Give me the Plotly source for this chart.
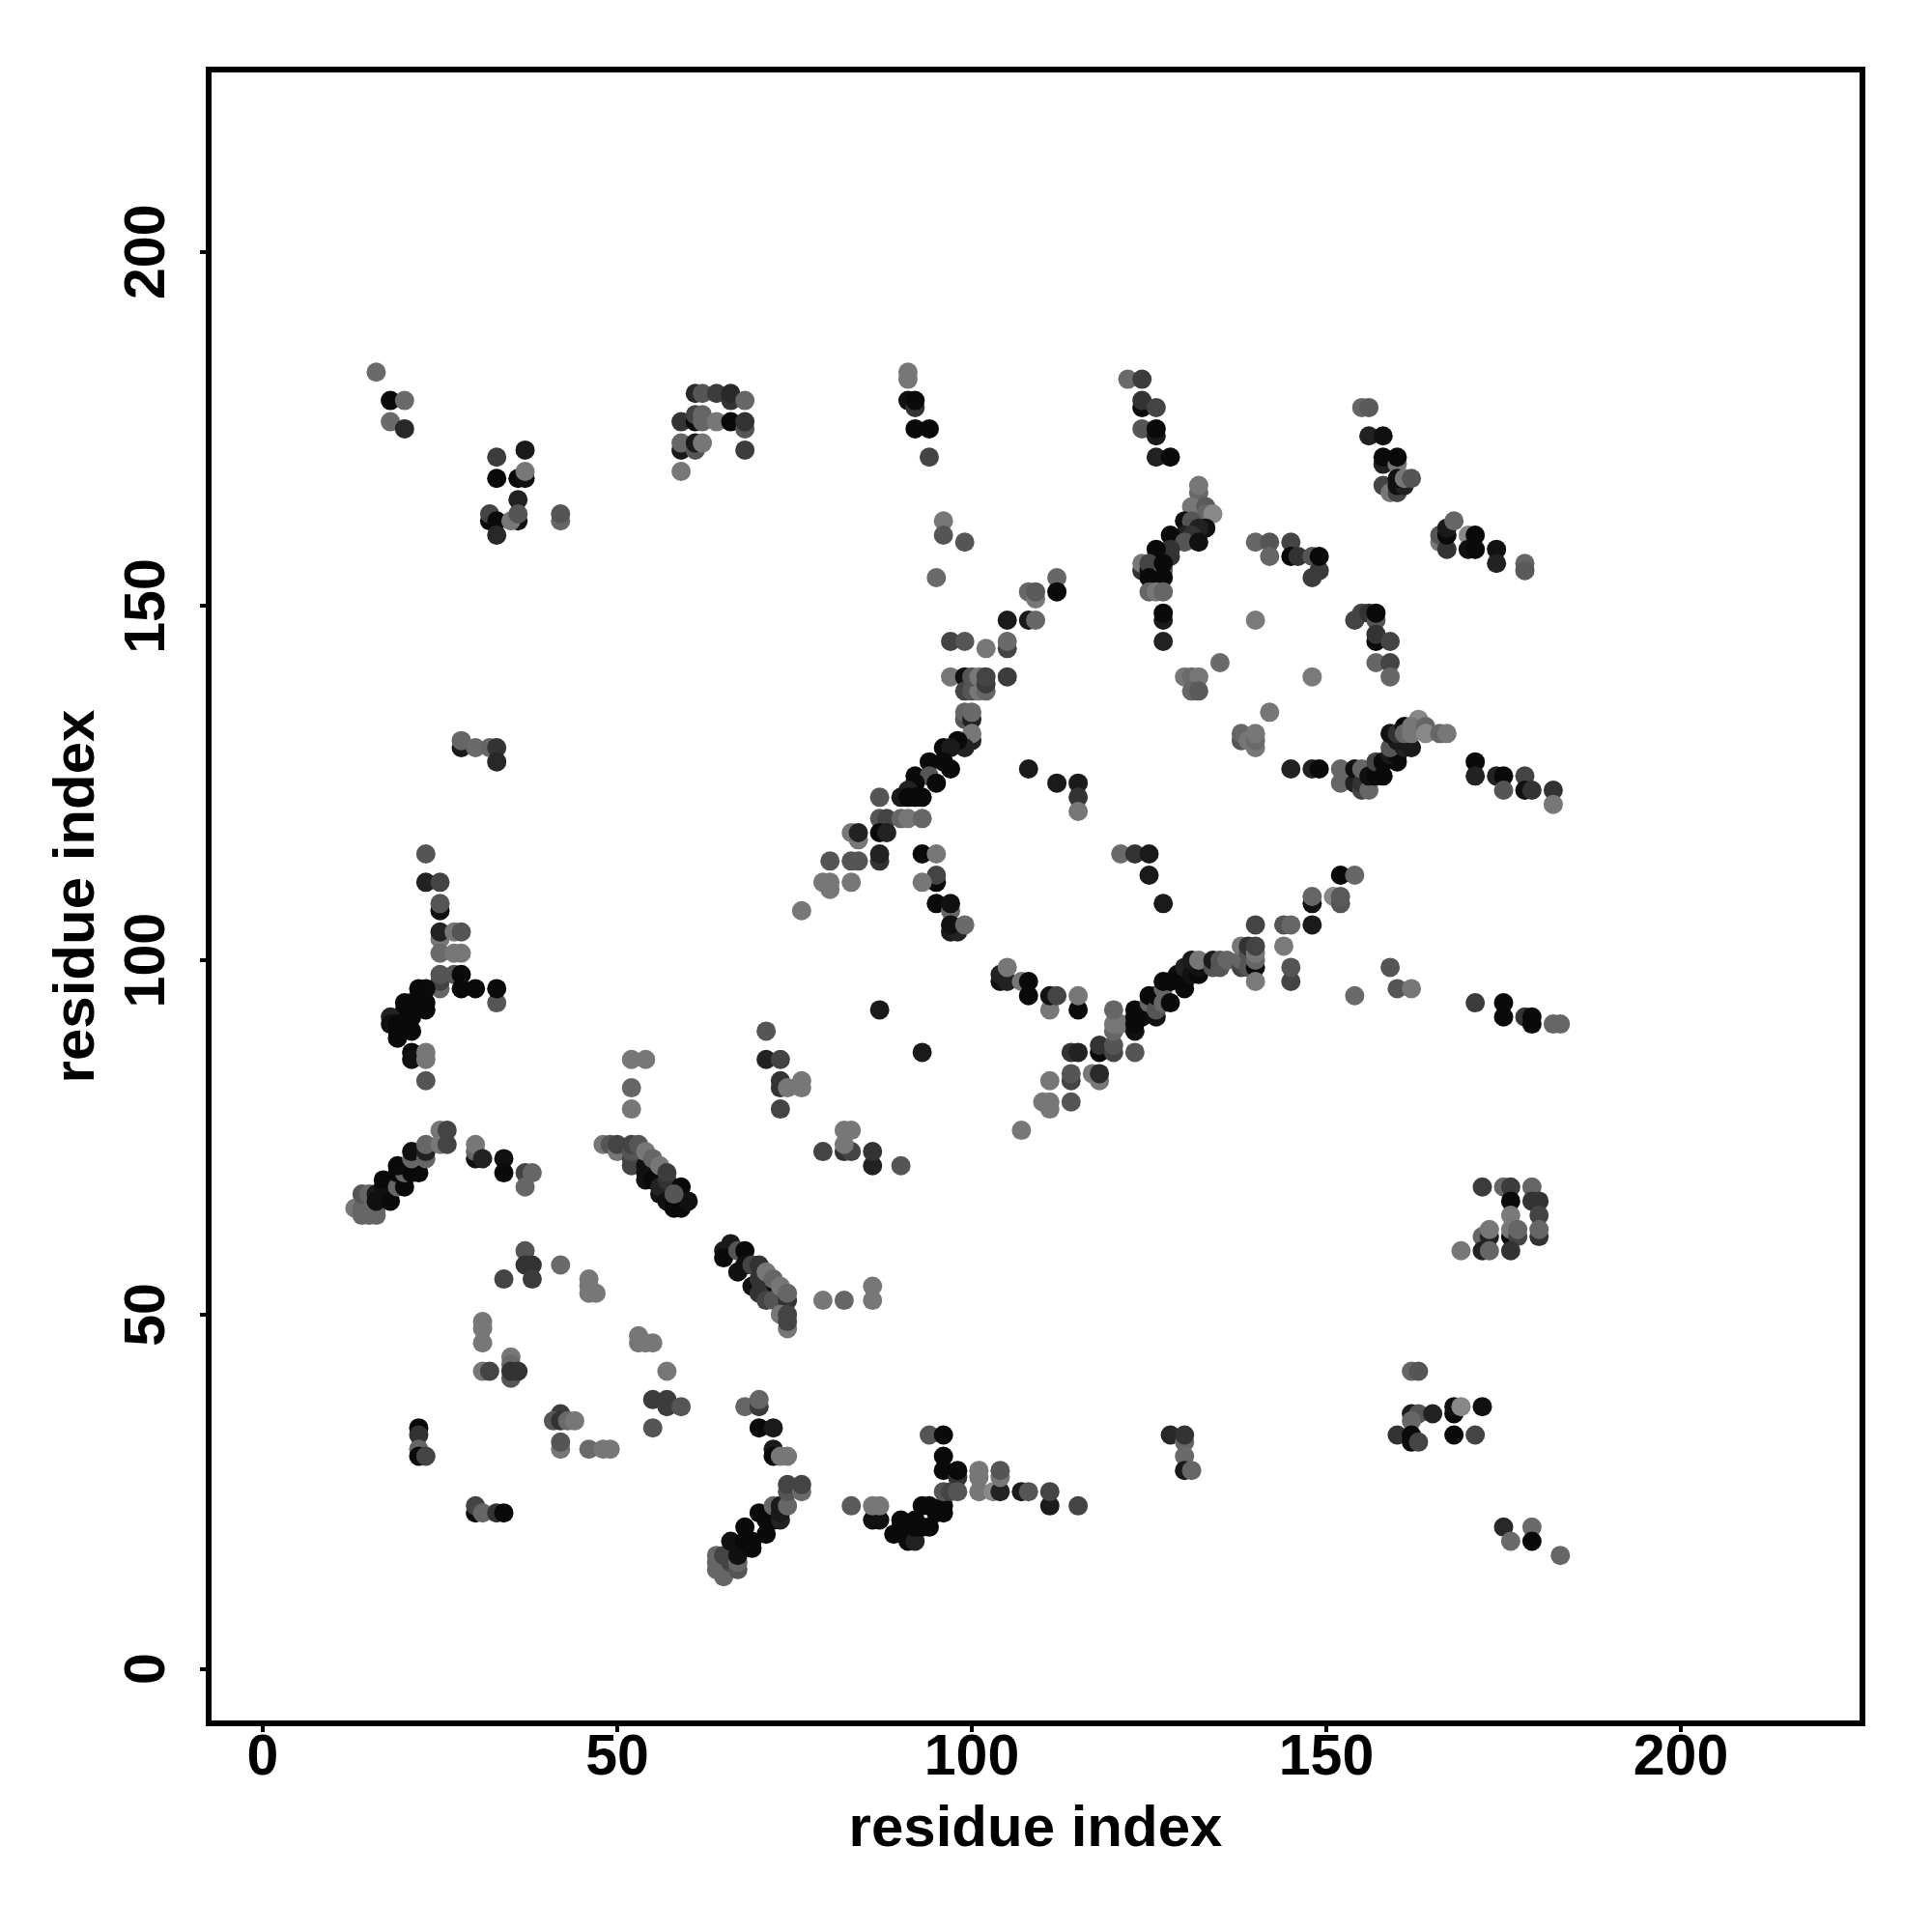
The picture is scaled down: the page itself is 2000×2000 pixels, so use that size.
import plotly.graph_objects as go

# Each entry: (residue i, residue j, grey level)
top_left = [(16,183,106),(18,179,10),(20,179,106),(18,176,106),(20,175,40),
 (33,171,60),(37,172,26),(33,168,10),(36,168,10),(37,168,17),(37,169,119),(36,165,34),
 (32,162,10),(32,163,68),(33,162,10),(33,160,40),(36,162,17),(35,162,119),(36,163,85),(42,162,102),(42,163,85),
 (28,130,26),(28,131,102),(30,130,106),(32,130,102),(33,130,51),(33,128,40)]
top_cluster = [(61,180,40),(62,180,85),(64,180,60),(66,179,51),(66,180,40),(68,179,102),
 (59,176,51),(61,176,10),(61,177,68),(62,176,102),(62,177,102),(64,176,119),(66,176,10),(68,175,85),(68,176,51),
 (59,172,26),(59,173,102),(61,172,85),(61,173,26),(62,173,119),(68,172,60),(59,169,119)]
top_mid = [(91,183,119),(91,182,119),(91,179,17),(92,178,51),(92,179,10),(92,175,10),(94,175,10),(94,171,68),
 (122,182,106),(124,182,60),(124,178,10),(124,179,51),(126,178,68),(124,175,85),(126,174,26),(126,175,10),(126,171,34),(128,171,10),
 (96,162,119),(96,160,85),(99,159,85),(95,154,106),
 (112,154,102),(112,152,10),(108,152,102),(109,151,119),(109,152,90),(105,148,26),(108,148,26),(109,148,102),
 (97,145,68),(99,145,85),(102,144,119),(105,144,68),(105,145,106)]
rise_upper = [(97,140,119),(99,140,17),(99,138,68),(100,138,85),(101,138,119),(100,140,85),(101,140,119),(102,138,102),(102,139,60),(102,140,68),(105,140,60),
 (99,134,85),(99,135,102),(100,134,34),(100,135,106),(100,131,34),(100,132,119),(99,130,34),(98,131,10),(96,130,10),(97,130,26),
 (94,128,10),(96,128,10),(97,127,10),(92,126,10),(94,126,85),(95,125,10),(92,125,10),(91,124,34),
 (90,123,26),(91,123,10),(92,123,10),(93,123,10),(87,123,85),
 (87,120,85),(88,120,68),(90,120,102),(91,120,119),(93,120,102),(87,118,10),(88,118,34),(83,118,119),(84,117,119),(84,118,34),
 (87,114,51),(87,115,34),(80,114,85),(83,114,85),(84,114,85),(79,111,119),(80,110,119),(80,111,119),(83,111,119),(76,107,119)]
inner_arc = [(93,115,10),(95,115,119),(95,111,10),(95,112,68),(93,111,119),(95,108,10),(97,107,102),(97,108,17),(97,104,26),(98,104,34),(97,105,17),(99,105,106),
 (108,127,26),(112,125,26),(115,125,26),(115,123,51),(115,121,119),
 (121,115,106),(123,115,51),(125,115,26),(125,112,26),(127,108,26)]
star = [(132,166,102),(132,167,119),(131,164,119),(133,164,90),(132,162,119),(133,163,102),(134,163,136),
 (130,162,17),(131,162,85),(133,161,17),(132,161,34),(130,160,34),(128,160,10),(131,160,51),(130,159,85),(132,159,17),
 (128,158,51),(128,157,51),(126,158,10),(124,155,51),(124,156,119),(125,155,17),(125,156,68),(127,155,102),(127,156,10),(125,154,10),(127,154,10),
 (125,152,102),(126,152,119),(127,152,102),(127,148,26),(127,149,10),(127,145,34)]
upper_right = [(140,159,102),(142,159,85),(142,157,102),(145,159,68),(145,157,10),(146,157,51),(148,157,85),(149,155,58),(148,154,60),(149,157,10),
 (155,178,102),(156,178,90),(156,174,34),(158,174,17),(158,170,34),(158,171,10),(160,170,119),(160,171,10),
 (158,167,68),(159,166,119),(160,166,68),(160,167,17),(161,167,34),(160,168,17),(161,168,119),(162,168,85),
 (166,159,119),(166,160,85),(167,158,51),(167,160,10),(167,161,26),(168,162,102),(170,160,136),(170,158,17),(171,158,10),(171,160,10),
 (174,158,17),(174,156,34),(178,156,102),(178,155,90)]
ring_right = [(154,148,68),(155,149,68),(156,149,51),(157,148,85),(157,149,10),(157,145,10),(157,146,51),(159,145,68),(157,142,102),(159,142,68),(159,140,102),
 (140,148,122),(135,142,106),(148,140,122),(130,140,119),(131,140,106),(132,140,119),(131,138,102),(132,138,90),
 (142,135,119),(138,131,85),(138,132,102),(139,131,119),(140,130,119),(140,131,106),(140,132,119)]
swirl = [(145,127,34),(148,127,34),(149,127,10),(152,125,102),(152,127,102),(154,125,34),(154,127,17),(155,124,68),(155,125,51),(155,127,102),
 (156,124,102),(156,126,17),(157,126,10),(157,128,68),(158,126,10),(158,128,10),(160,128,10),
 (159,129,26),(160,129,10),(159,130,85),(161,130,34),(162,130,26),(160,131,26),(159,132,17),(160,132,51),(161,133,10),(161,132,102),
 (163,134,136),(162,133,119),(162,132,119),(164,133,102),(164,132,136),(166,132,102),(167,132,119),
 (171,128,10),(171,126,34),(174,126,34),(175,126,10),(178,126,68),(175,124,85),(178,124,17),(179,124,51),(182,124,51),(182,122,119)]
left_branch = [(23,115,85),(23,111,34),(25,111,68),(25,107,17),(25,108,85),(25,103,119),(25,104,34),(27,104,119),(28,104,85),
 (25,101,106),(27,101,119),(28,101,119),(25,96,102),(25,97,68),(25,98,85),(27,98,85),(28,98,10),(28,96,10),(30,96,10),(33,94,85),(33,96,10),
 (22,95,119),(22,96,10),(23,96,10),(21,93,102),(23,94,10),(23,93,10),(20,94,10),(21,94,10),(20,93,10),(21,92,10),(18,92,34),(18,91,17),(19,91,10),(20,91,10),(21,90,10),(19,90,10),(19,89,10),
 (21,87,10),(21,86,17),(23,87,119),(23,86,119),(23,83,85)]
left_arm = [(13,65,119),(14,65,102),(15,65,102),(16,65,102),(14,64,102),(15,64,102),(16,64,102),(14,67,85),(15,67,102),
 (16,67,26),(16,66,17),(17,68,17),(17,69,10),(18,66,10),(19,68,102),(20,68,10),(19,70,10),(20,70,102),(21,70,10),(22,70,10),(19,71,10),
 (21,72,102),(21,73,17),(23,72,102),(23,73,34),(23,74,102),(25,74,119),(25,76,119),(26,74,68),(26,76,68),
 (30,72,17),(30,73,102),(30,74,119),(31,72,34),(34,72,17),(34,70,10),(37,70,68),(38,70,102),(37,68,102)]
center_left = [(52,86,119),(54,86,119),(52,82,102),(52,79,119),
 (48,74,119),(49,74,85),(50,73,119),(50,74,68),(52,71,68),(52,72,68),(52,73,85),(52,74,68),(53,74,85),
 (54,69,17),(54,70,17),(54,71,17),(55,69,10),(56,67,17),(56,68,34),(57,66,17),(57,69,51),(58,65,10),(58,66,10),(59,65,10),(59,68,10),(60,66,17),
 (54,73,119),(55,72,102),(56,71,119),(57,70,60),(58,67,85)]
mid_small = [(71,90,85),(71,86,34),(73,86,68),(73,79,68),(73,82,51),(73,83,51),(74,82,119),(76,82,119),(76,83,119),
 (82,76,119),(83,76,119),(79,73,68),(82,73,51),(83,73,68),(82,74,119),(86,71,34),(86,73,51),(90,71,85),(87,93,26),(93,87,26)]
lower_arc = [(104,97,17),(104,98,34),(105,97,34),(105,99,119),(107,97,119),(108,95,10),(108,97,10),(111,93,119),(111,95,17),(112,95,68),(115,93,10),(115,95,119)]
main_rise = [(107,76,119),(110,80,119),(111,80,119),(111,79,119),(114,80,85),(111,83,119),(114,83,68),(114,84,85),(117,84,119),(118,83,119),(118,84,42),
 (114,87,51),(115,87,34),(118,87,10),(118,88,51),(120,87,68),(120,88,85),(123,87,85),(120,90,102),(120,91,119),(121,91,119),(120,93,102),
 (123,90,17),(123,91,10),(123,92,10),(123,93,10),(124,92,10),(125,94,102),(125,95,10),(126,92,17),(126,93,85),(126,95,10),
 (127,96,102),(127,97,10),(128,97,10),(127,94,102),(128,94,10),(129,98,10),(130,96,10),(130,97,10),(130,99,34),(131,98,17),(132,98,10),(132,99,17),(131,100,26),(132,100,119),
 (134,99,85),(134,100,26),(135,99,85),(135,100,85),(136,100,102),(138,99,68),(138,100,102),(138,102,119),(139,99,85),(139,101,85),(139,102,51),
 (140,99,10),(140,100,102),(140,101,119),(140,102,68),(140,105,68),(140,97,122),(144,102,122),(144,105,85),(145,105,102),(145,97,68),(145,99,85),
 (148,105,26),(148,108,17),(148,109,102),(151,109,136),(152,108,85),(152,109,90),(152,112,10),(154,112,102)]
right_mid = [(159,99,85),(160,96,85),(162,96,119),(154,95,106),(171,94,60),(175,92,10),(175,94,10),(178,92,51),(179,91,10),(179,92,10),(182,91,102),(183,91,102)]
right_low = [(172,68,60),(175,68,102),(176,68,60),(179,68,102),(176,66,10),(179,66,51),(180,66,51),(176,64,122),(180,64,68),
 (172,61,102),(173,61,34),(173,62,119),(176,61,10),(176,62,119),(177,61,68),(177,62,102),(180,61,51),(180,62,102),(169,59,119),(172,59,34),(173,59,102),(176,59,51),
 (162,42,102),(163,42,85),(162,36,26),(163,36,85),(165,36,34),(168,36,10),(168,37,17),(169,37,136),(172,37,17),(162,35,102),(160,33,51),(162,33,10),(162,32,10),(163,32,68),(168,33,10),(171,33,68),
 (175,20,40),(179,20,106),(176,18,106),(179,18,10),(183,16,102),
 (128,33,40),(130,32,102),(130,33,51),(130,30,106),(130,28,26),(131,28,102)]
lower_ring = [(37,59,85),(37,57,51),(38,57,51),(38,55,60),(34,55,68),(42,57,106),(46,55,119),(46,54,119),(46,53,119),(47,53,119),
 (31,49,119),(31,48,119),(31,46,119),(31,42,119),(32,42,68),(35,44,119),(35,43,106),(35,41,85),(35,42,51),(36,42,51),
 (53,47,119),(53,46,119),(54,46,119),(55,46,119),(57,42,119),(55,38,60),(57,37,60),(57,38,60),(59,37,85),(55,34,85),
 (42,36,60),(41,35,85),(42,35,51),(43,35,106),(44,35,119),(42,31,119),(42,32,85),(46,31,106),(48,31,119),(49,31,119),
 (22,34,10),(22,33,51),(22,31,102),(22,30,10),(23,30,68),(30,22,10),(30,23,68),(31,22,102),(33,22,51),(34,22,10)]
band_mid = [(66,60,26),(65,59,26),(65,58,10),(67,59,85),(68,59,10),(67,56,17),(68,57,17),(69,54,17),(70,54,10),(72,53,10),(69,57,68),(70,57,51),(70,55,51),(70,53,51),
 (71,56,119),(72,55,102),(71,52,68),(72,52,85),(73,54,119),(74,52,51),(74,53,102),(73,50,119),(74,48,119),(74,49,68),(74,50,68),
 (79,52,119),(82,52,102),(86,54,119),(86,52,119)]
bottom_left_band = [(64,14,102),(64,15,102),(64,16,102),(65,13,102),(65,16,68),(66,15,68),(67,14,85),(67,15,102),(67,16,17),(66,18,17),
 (68,18,10),(68,20,10),(69,17,10),(69,18,10),(70,22,10),(71,19,10),(71,21,10),(72,21,10),(72,23,102),(73,21,34),(73,22,26),(73,23,26),(74,23,102),
 (74,25,85),(74,26,68),(76,25,106),(76,26,68),
 (68,37,102),(70,37,60),(70,38,102),(70,34,10),(72,34,26),(72,31,26),(72,30,10),(73,30,119),(74,30,119)]
bottom_center = [(83,23,90),(86,21,17),(87,21,17),(86,23,119),(87,23,119),
 (89,19,10),(90,20,10),(90,21,10),(91,18,10),(91,19,10),(92,18,34),(92,20,10),(92,21,10),(93,20,10),(93,23,10),(94,20,10),(94,23,10),(95,22,10),(96,22,10),(96,23,10),
 (94,33,85),(96,33,10),(96,30,10),(96,28,10),(98,27,51),(98,28,10),(96,25,85),(97,25,68),(98,25,85),
 (101,25,119),(101,27,119),(101,28,119),(103,25,136),(104,25,34),(104,27,119),(104,28,85),(107,25,26),(108,25,85),(111,23,26),(111,25,68),(115,23,68)]

clusters = [top_left, top_cluster, top_mid, rise_upper, inner_arc, star, upper_right, ring_right, swirl,
            left_branch, left_arm, center_left, mid_small, lower_arc, main_rise, right_mid, right_low,
            lower_ring, band_mid, bottom_left_band, bottom_center]
points = [p for c in clusters for p in c]
xs = [p[0] for p in points]
ys = [p[1] for p in points]
greys = [p[2] for p in points]

tick_vals = [0, 50, 100, 150, 200]
axis_title = "residue index"
font = "Liberation Sans"

fig = go.Figure(go.Scatter(
    x=xs, y=ys, mode="markers",
    marker=dict(size=20, color=greys, cmin=0, cmax=255, line=dict(width=0),
                colorscale=[[0, "#000000"], [1, "#ffffff"]], showscale=False),
))

def axis(standoff, **kw):
    return dict(
        tickmode="array", tickvals=tick_vals, ticks="outside", ticklen=6, tickwidth=4, tickcolor="black",
        showline=True, mirror=True, linewidth=6, linecolor="black", showgrid=False, zeroline=False,
        tickfont=dict(family=font, size=59, color="black", weight="bold"),
        title=dict(text=axis_title, standoff=standoff,
                   font=dict(family=font, size=60, color="black", weight="bold")),
        **kw)

fig.update_layout(
    width=1984, height=1984, paper_bgcolor="white", plot_bgcolor="white", showlegend=False,
    margin=dict(l=211, r=67, t=67, b=211, autoexpand=False),
    xaxis=axis(22, range=[-7.22, 225.2], ticklabelstandoff=-27),
    yaxis=axis(2, range=[-7.29, 225.3], tickangle=-90, ticklabelstandoff=13, ticklabelshift=9),
)
fig.write_html("out.html")
